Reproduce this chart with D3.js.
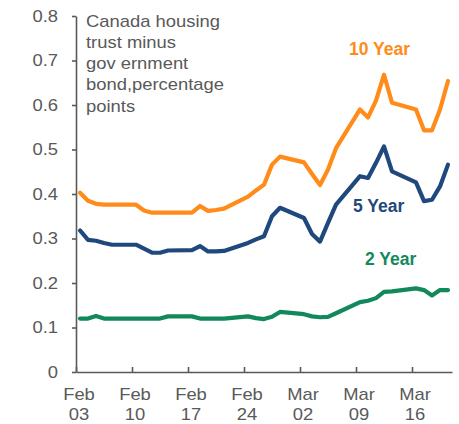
<!DOCTYPE html>
<html>
<head>
<meta charset="utf-8">
<script src="https://cdn.jsdelivr.net/npm/d3@7"></script>
<style>
  body { margin: 0; background: #fff; }
  text { font-family: "Liberation Sans", Arial, sans-serif; }
</style>
</head>
<body>
<div id="chart"></div>
<script>
// 1: DATA (business days, Feb 3 - Mar 20 2020)
const dates = [
  "2020-02-03", "2020-02-04", "2020-02-05", "2020-02-06", "2020-02-07",
  "2020-02-10", "2020-02-11", "2020-02-12", "2020-02-13", "2020-02-14",
  "2020-02-17", "2020-02-18", "2020-02-19", "2020-02-20", "2020-02-21",
  "2020-02-24", "2020-02-25", "2020-02-26", "2020-02-27", "2020-02-28",
  "2020-03-02", "2020-03-03", "2020-03-04", "2020-03-05", "2020-03-06",
  "2020-03-09", "2020-03-10", "2020-03-11", "2020-03-12", "2020-03-13",
  "2020-03-16", "2020-03-17", "2020-03-18", "2020-03-19", "2020-03-20"
];

const tenYear = [
  0.403, 0.385, 0.378, 0.376, 0.376,
  0.376, 0.363, 0.358, 0.358, 0.358,
  0.358, 0.373, 0.362, 0.364, 0.367,
  0.394, 0.408, 0.421, 0.466, 0.484,
  0.471, 0.445, 0.420, 0.455, 0.503,
  0.590, 0.572, 0.610, 0.668, 0.605,
  0.590, 0.543, 0.543, 0.590, 0.654
];

const fiveYear = [
  0.318, 0.297, 0.295, 0.290, 0.286,
  0.286, 0.277, 0.268, 0.268, 0.273,
  0.274, 0.283, 0.271, 0.271, 0.272,
  0.290, 0.298, 0.305, 0.350, 0.369,
  0.346, 0.310, 0.293, 0.335, 0.376,
  0.440, 0.436, 0.470, 0.507, 0.451,
  0.426, 0.384, 0.387, 0.417, 0.466
];

const twoYear = [
  0.120, 0.120, 0.126, 0.120, 0.120,
  0.120, 0.120, 0.120, 0.120, 0.125,
  0.125, 0.120, 0.120, 0.120, 0.120,
  0.125, 0.121, 0.119, 0.124, 0.135,
  0.130, 0.125, 0.123, 0.124, 0.132,
  0.157, 0.160, 0.166, 0.180, 0.181,
  0.188, 0.184, 0.172, 0.184, 0.184
];

const yTicks = [0, 0.1, 0.2, 0.3, 0.4, 0.5, 0.6, 0.7, 0.8];
const xTickDates = ["2020-02-03", "2020-02-10", "2020-02-17", "2020-02-24", "2020-03-02", "2020-03-09", "2020-03-16"];
const xTickLabels = [["Feb", "03"], ["Feb", "10"], ["Feb", "17"], ["Feb", "24"], ["Mar", "02"], ["Mar", "09"], ["Mar", "16"]];
const titleLines = ["Canada housing", "trust minus", "gov ernment", "bond,percentage", "points"];

// 2: SETUP
const margin = { top: 16, right: 7, bottom: 52, left: 76 };
const width = 459 - margin.left - margin.right;
const height = 424 - margin.top - margin.bottom;
const grey = "#595959";
const stretch = "scale(1.15,1)";

const parseDate = d3.timeParse("%Y-%m-%d");
const days = dates.map(parseDate);
const mid = d => d3.timeHour.offset(d, 12);

const svg = d3.select("#chart")
    .append("svg")
    .attr("width", width + margin.left + margin.right)
    .attr("height", height + margin.top + margin.bottom)
    .append("g")
    .attr("transform", `translate(${margin.left},${margin.top})`);

const xScale = d3.scaleTime()
    .domain([parseDate("2020-02-03"), parseDate("2020-03-21")])
    .range([0, width]);
const yScale = d3.scaleLinear().domain([0, 0.8]).range([height, 0]);

// 3: AXES
const yAxis = svg.append("g")
    .call(d3.axisLeft(yScale).tickValues(yTicks).tickSizeInner(4).tickSizeOuter(0).tickFormat(""));
const xAxis = svg.append("g")
    .attr("transform", `translate(0,${height})`)
    .call(d3.axisBottom(xScale).tickValues(xTickDates.map(parseDate)).tickSizeInner(-5).tickSizeOuter(0).tickFormat(""));

[yAxis, xAxis].forEach(ax => {
    ax.select(".domain").attr("stroke", grey).attr("stroke-width", 1.6);
    ax.selectAll(".tick line").attr("stroke", grey).attr("stroke-width", 1.6);
});

svg.selectAll(".y-label")
    .data(yTicks)
    .join("text")
    .attr("class", "y-label")
    .attr("transform", d => `translate(-18,${yScale(d)}) ${stretch}`)
    .attr("text-anchor", "end")
    .attr("dy", "0.36em")
    .attr("font-size", 16)
    .attr("fill", grey)
    .text(d => d === 0 ? "0" : d.toFixed(1));

const xLabels = svg.selectAll(".x-label")
    .data(xTickDates)
    .join("text")
    .attr("class", "x-label")
    .attr("transform", d => `translate(${xScale(mid(parseDate(d))) - 1},${height + 28}) ${stretch}`)
    .attr("text-anchor", "middle")
    .attr("font-size", 16)
    .attr("fill", grey);
xLabels.append("tspan").attr("x", 0).attr("y", 0).text((d, i) => xTickLabels[i][0]);
xLabels.append("tspan").attr("x", 0).attr("y", 20).text((d, i) => xTickLabels[i][1]);

// 4: TITLE
svg.selectAll(".title-line")
    .data(titleLines)
    .join("text")
    .attr("class", "title-line")
    .attr("transform", (d, i) => `translate(10,${10.5 + i * 21.3}) ${stretch}`)
    .attr("font-size", 16)
    .attr("fill", grey)
    .text(d => d);

// 5: LINES
const line = d3.line()
    .x((d, i) => xScale(mid(days[i])))
    .y(d => yScale(d));

const series = [
    { name: "10 Year", values: tenYear, color: "#FF8C1A", lx: 273, ly: 39 },
    { name: "5 Year", values: fiveYear, color: "#1F497D", lx: 277, ly: 195.7 },
    { name: "2 Year", values: twoYear, color: "#12895C", lx: 289, ly: 249 }
];

series.forEach(s => {
    svg.append("path")
        .datum(s.values)
        .attr("fill", "none")
        .attr("stroke", s.color)
        .attr("stroke-width", 4.2)
        .attr("stroke-linejoin", "round")
        .attr("stroke-linecap", "round")
        .attr("d", line);

    svg.append("text")
        .attr("x", s.lx)
        .attr("y", s.ly)
        .attr("font-size", 17.5)
        .attr("font-weight", "bold")
        .attr("fill", s.color)
        .text(s.name);
});
</script>
</body>
</html>
